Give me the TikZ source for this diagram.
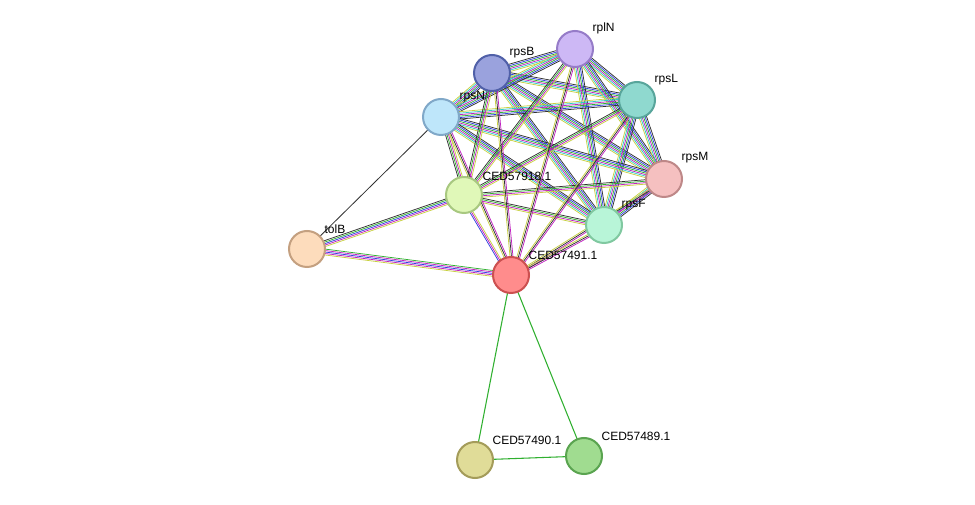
\documentclass[tikz,border=0pt]{standalone}
\usepackage{fontspec}
\setmainfont{Liberation Sans}
\usetikzlibrary{calc}
\definecolor{tm}{HTML}{C8D040}
\definecolor{db}{HTML}{30C8C8}
\definecolor{ex}{HTML}{C020C0}
\definecolor{nb}{HTML}{30B030}
\definecolor{co}{HTML}{3040E0}
\definecolor{ce}{HTML}{303030}
\newcommand\bund[3]{%
  \foreach \c [count=\i] in {#3} {%
    \draw[\c, line width=0.55pt] ($(#1)!{(\i-3.5)*1.1pt}!90:(#2)$) -- ($(#2)!{(\i-3.5)*1.1pt}!-90:(#1)$);%
  }}
\begin{document}
\begin{tikzpicture}[x=0.75pt,y=-0.75pt,
  prot/.style={circle,minimum size=27pt,inner sep=0pt,line width=1.5pt},
  lab/.style={font=\fontsize{9}{10}\selectfont,anchor=south west,inner sep=1pt}]
\useasboundingbox (0,0) rectangle (975,505);
\fill[white] (0,0) rectangle (975,505);
\coordinate (rpsB) at (492,73);
\coordinate (rplN) at (575,49);
\coordinate (rpsL) at (637,100);
\coordinate (rpsN) at (441,117);
\coordinate (rpsM) at (664,179);
\coordinate (c918) at (464,195);
\coordinate (rpsF) at (604,225);
\coordinate (tolB) at (307,249);
\coordinate (c491) at (511,275);
\coordinate (c490) at (475,460);
\coordinate (c489) at (584,456);
% ribosomal cluster bundles
\foreach \a/\b in {rpsB/rplN,rpsB/rpsL,rpsB/rpsN,rpsB/rpsM,rpsB/rpsF,rplN/rpsL,rplN/rpsN,rplN/rpsM,rplN/rpsF,rpsL/rpsN,rpsL/rpsM,rpsL/rpsF,rpsN/rpsM,rpsN/rpsF,rpsM/rpsF}
  {\bund{\a}{\b}{tm,db,ex,nb,co,ce}}
\foreach \b in {rpsB,rplN,rpsL,rpsN,rpsM,rpsF}
  {\bund{c918}{\b}{tm,ex,nb,ce}}
\foreach \b in {rpsB,rplN,rpsL,rpsN,rpsM,rpsF}
  {\bund{c491}{\b}{ex,ce,tm}}
\bund{c918}{c491}{co,ex,tm}
\bund{tolB}{c918}{tm,ex,co,nb,ce}
\bund{tolB}{c491}{tm,ex,co,ex,nb}
\draw[ce,line width=0.6pt] (tolB) -- (rpsN);
\draw[nb,line width=0.8pt] (c491) -- (c490);
\draw[nb,line width=0.8pt] (c491) -- (c489);
\draw[nb,line width=0.8pt] (c490) -- (c489);
% nodes
\node[prot,fill={rgb,255:red,154;green,162;blue,221},draw={rgb,255:red,80;green,96;blue,168}] (nrpsB) at (rpsB) {};
\node[prot,fill={rgb,255:red,205;green,184;blue,245},draw={rgb,255:red,150;green,124;blue,200}] (nrplN) at (rplN) {};
\node[prot,fill={rgb,255:red,143;green,217;blue,207},draw={rgb,255:red,88;green,165;blue,155}] (nrpsL) at (rpsL) {};
\node[prot,fill={rgb,255:red,190;green,230;blue,250},draw={rgb,255:red,128;green,168;blue,200}] (nrpsN) at (rpsN) {};
\node[prot,fill={rgb,255:red,245;green,192;blue,192},draw={rgb,255:red,190;green,136;blue,136}] (nrpsM) at (rpsM) {};
\node[prot,fill={rgb,255:red,224;green,248;blue,184},draw={rgb,255:red,168;green,200;blue,128}] (n918) at (c918) {};
\node[prot,fill={rgb,255:red,184;green,245;blue,216},draw={rgb,255:red,128;green,200;blue,160}] (nrpsF) at (rpsF) {};
\node[prot,fill={rgb,255:red,253;green,220;blue,188},draw={rgb,255:red,196;green,160;blue,128}] (ntolB) at (tolB) {};
\node[prot,fill={rgb,255:red,255;green,140;blue,140},draw={rgb,255:red,204;green,80;blue,80}] (n491) at (c491) {};
\node[prot,fill={rgb,255:red,224;green,220;blue,152},draw={rgb,255:red,164;green,156;blue,90}] (n490) at (c490) {};
\node[prot,fill={rgb,255:red,160;green,220;blue,144},draw={rgb,255:red,90;green,164;blue,80}] (n489) at (c489) {};
% labels
\node[lab] at (508,60) {rpsB};
\node[lab] at (591,36) {rplN};
\node[lab] at (653,87) {rpsL};
\node[lab] at (458,104) {rpsN};
\node[lab] at (680,165) {rpsM};
\node[lab] at (481,182) {CED57918.1};
\node[lab] at (620,212) {rpsF};
\node[lab] at (323,235) {tolB};
\node[lab] at (527,261) {CED57491.1};
\node[lab] at (491,446) {CED57490.1};
\node[lab] at (600,442) {CED57489.1};
\end{tikzpicture}
\end{document}
